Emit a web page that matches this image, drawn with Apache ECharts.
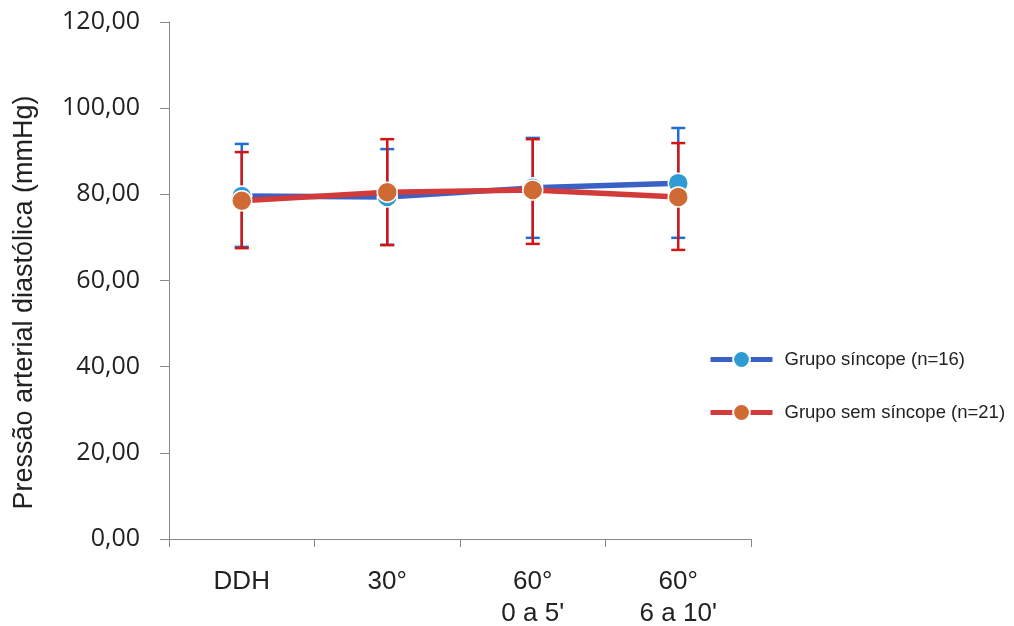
<!DOCTYPE html>
<html>
<head>
<meta charset="utf-8">
<script src="https://cdn.jsdelivr.net/npm/echarts@6/dist/echarts.min.js"></script>
<style>
    html, body { margin: 0; padding: 0; background: #fff; }
    #chart { width: 1014px; height: 626px; }
</style>
</head>
<body>
<div id="chart"></div>
<script>
const categories = ['DDH', '30°', '60°\n0 a 5\'', '60°\n6 a 10\''];

// Grupo síncope (n=16)
const sincopeMean = [79.6, 79.4, 81.5, 82.6];
const sincopeLow = [67.8, 68.3, 69.9, 69.9];
const sincopeHigh = [91.7, 90.5, 93.1, 95.4];

// Grupo sem síncope (n=21)
const semSincopeMean = [78.5, 80.5, 81.0, 79.4];
const semSincopeLow = [67.5, 68.2, 68.5, 67.1];
const semSincopeHigh = [89.8, 92.8, 92.8, 91.9];

const chartDom = document.getElementById('chart');
const myChart = echarts.init(chartDom);

function errorData(low, high) {
    return low.map((v, i) => [i, v, high[i]]);
}

function errorBar(color) {
    return function (params, api) {
        const x = api.value(0);
        const lo = api.coord([x, api.value(1)]);
        const hi = api.coord([x, api.value(2)]);
        const half = 7;
        const style = { stroke: color, lineWidth: 2.5 };
        return {
            type: 'group',
            children: [
                { type: 'line', shape: { x1: hi[0], y1: hi[1], x2: lo[0], y2: lo[1] }, style: style },
                { type: 'line', shape: { x1: hi[0] - half, y1: hi[1], x2: hi[0] + half, y2: hi[1] }, style: style },
                { type: 'line', shape: { x1: lo[0] - half, y1: lo[1], x2: lo[0] + half, y2: lo[1] }, style: style }
            ]
        };
    };
}

const option = {
    animation: false,
    grid: {
        left: 169,
        right: 263,
        top: 22,
        bottom: 87,
        containLabel: false,
        outerBoundsMode: 'none'
    },
    legend: {
        orient: 'vertical',
        left: 708,
        top: 350,
        padding: 0,
        itemWidth: 62,
        itemHeight: 21,
        itemGap: 34,
        data: ['Grupo síncope (n=16)', 'Grupo sem síncope (n=21)'],
        lineStyle: { width: 5 },
        textStyle: {
            fontFamily: 'Liberation Sans',
            fontSize: 18.5,
            color: '#222',
            padding: [0, 0, 0, 7]
        }
    },
    xAxis: {
        type: 'category',
        data: categories,
        boundaryGap: true,
        axisLine: { lineStyle: { color: '#888', width: 1 } },
        axisTick: { show: true, length: 8, lineStyle: { color: '#888' } },
        axisLabel: {
            interval: 0,
            margin: 27,
            fontFamily: 'Liberation Sans',
            fontSize: 26,
            lineHeight: 32,
            color: '#222',
            verticalAlign: 'top'
        },
        splitLine: { show: false }
    },
    yAxis: {
        type: 'value',
        min: 0,
        max: 120,
        interval: 20,
        name: 'Pressão arterial diastólica (mmHg)',
        nameLocation: 'middle',
        nameGap: 131,
        nameRotate: 90,
        nameTextStyle: {
            fontFamily: 'Liberation Sans',
            fontSize: 27,
            color: '#222',
            padding: [0, 44, 0, 0]
        },
        axisLine: { show: true, lineStyle: { color: '#888', width: 1 } },
        axisTick: { show: true, length: 9, lineStyle: { color: '#888' } },
        axisLabel: {
            margin: 29,
            fontFamily: 'Open Sans',
            fontSize: 25,
            color: '#222',
            formatter: v => v.toFixed(2).replace('.', ',')
        },
        splitLine: { show: false }
    },
    series: [
        {
            name: 'Grupo síncope (n=16) erro',
            type: 'custom',
            data: errorData(sincopeLow, sincopeHigh),
            renderItem: errorBar('#1F6FD0'),
            encode: { x: 0, y: [1, 2] },
            z: 1
        },
        {
            name: 'Grupo sem síncope (n=21) erro',
            type: 'custom',
            data: errorData(semSincopeLow, semSincopeHigh),
            renderItem: errorBar('#D41515'),
            encode: { x: 0, y: [1, 2] },
            z: 2
        },
        {
            name: 'Grupo síncope (n=16)',
            type: 'line',
            data: sincopeMean,
            symbol: 'circle',
            symbolSize: 20,
            lineStyle: { color: '#3A62C6', width: 5.5 },
            itemStyle: { color: '#2E9BD3', borderColor: '#fff', borderWidth: 1.5 },
            z: 3
        },
        {
            name: 'Grupo sem síncope (n=21)',
            type: 'line',
            data: semSincopeMean,
            symbol: 'circle',
            symbolSize: 20,
            lineStyle: { color: '#D33A3A', width: 5.5 },
            itemStyle: { color: '#CF6A35', borderColor: '#fff', borderWidth: 1.5 },
            z: 4
        }
    ]
};

myChart.setOption(option);
</script>
</body>
</html>
